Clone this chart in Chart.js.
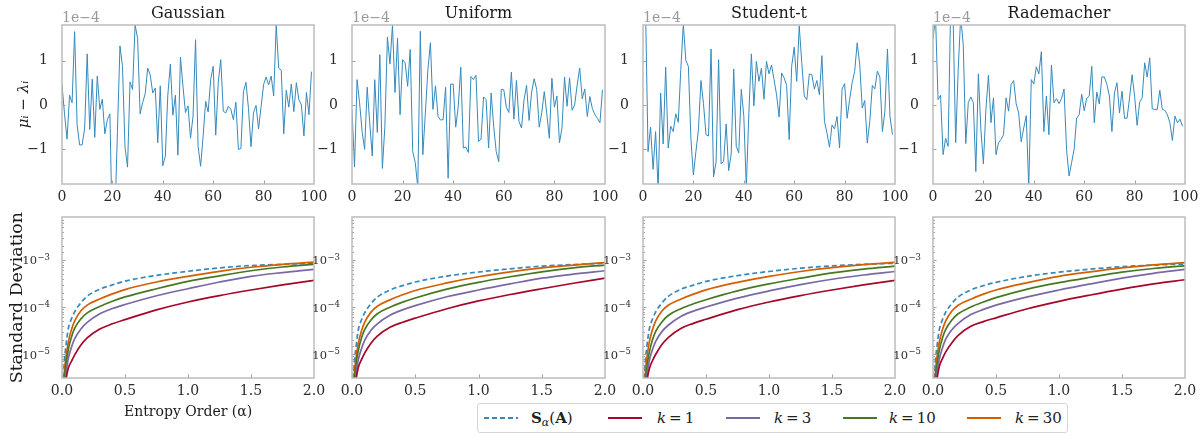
<!DOCTYPE html>
<html><head><meta charset="utf-8">
<script src="https://cdn.jsdelivr.net/npm/chart.js@4.4.0/dist/chart.umd.min.js"></script>
<style>
body{margin:0;background:#fff;width:1203px;height:434px;overflow:hidden;position:relative;font-family:"DejaVu Serif",serif;}
canvas{position:absolute;}
#legend{position:absolute;left:477px;top:403px;width:591px;height:30px;border:1px solid #d6d6d6;border-radius:3px;box-sizing:border-box;background:#fff;}
.ls{position:absolute;top:12px;}
.lt{position:absolute;top:4px;font-size:15px;color:#222;line-height:20px;white-space:nowrap;}
.axt{position:absolute;white-space:nowrap;color:#1a1a1a;line-height:1;background:transparent;}
.loglab{position:absolute;width:40px;text-align:right;font-size:11.5px;line-height:14px;height:14px;color:#2b2b2b;white-space:nowrap;z-index:20;background:transparent;}
.loglab .ex{font-size:8.5px;position:relative;top:-4.5px;margin-left:0.5px;}
</style></head><body>
<div id="legend"></div>
<script>
// ---------------- data ----------------
const indices = [0,1,2,3,4,5,6,7,8,9,10,11,12,13,14,15,16,17,18,19,20,21,22,23,24,25,26,27,28,29,30,31,32,33,34,35,36,37,38,39,40,41,42,43,44,45,46,47,48,49,50,51,52,53,54,55,56,57,58,59,60,61,62,63,64,65,66,67,68,69,70,71,72,73,74,75,76,77,78,79,80,81,82,83,84,85,86,87,88,89,90,91,92,93,94,95,96,97,98,99];

// mu_i - lambda_i, in units of 1e-4
const gaussianDiff = [0.45,-0.2,-0.77,0.22,0.05,1.65,-0.45,-0.9,-0.9,-0.52,
 1.15,-0.55,0.58,-0.73,0.65,-0.1,0.13,-0.65,-0.33,-0.2,
 -3.0,-2.5,-0.6,1.33,0.87,-0.95,-1.4,0.52,0.35,1.8,
 1.5,-0.2,0.05,0.25,0.83,0.68,0.27,0.38,-0.85,0.43,
 -1.37,-1.15,0.23,0.92,-0.23,0.22,-1.13,1.08,0.42,-0.17,
 -0.02,-0.75,-0.25,1.47,-0.93,-1.38,-0.7,0.08,-0.16,0.57,
 0.87,-0.68,0.5,1.02,-0.14,-0.18,-0.03,-0.1,-0.33,0.06,
 -1.0,-0.98,0.3,0.51,-0.08,-0.94,-0.17,-0.01,-0.54,-0.04,
 0.46,0.63,0.45,0.65,0.2,1.8,0.83,0.78,-0.65,0.33,
 -0.05,0.47,-0.15,0.5,0.12,0.0,-0.7,0.28,-0.22,0.75];
const uniformDiff = [-0.1,-1.4,0.57,0.05,-0.6,-1.0,0.4,-0.4,-1.15,0.57,
 -0.62,1.13,-1.43,-0.48,1.53,0.92,1.8,0.28,1.5,-0.22,
 1.02,0.95,0.42,1.25,-1.05,-1.3,-1.85,1.66,-1.12,-0.18,
 0.8,1.4,-0.1,0.43,-0.26,-0.34,-0.33,0.4,-1.65,0.47,
 0.47,-0.5,-0.03,0.85,-0.97,-0.95,-1.07,0.64,0.57,0.67,
 -0.82,-0.77,0.18,0.12,-0.97,0.27,-0.48,-1.05,-1.28,0.35,
 0.34,-0.05,-0.17,0.74,-0.32,0.55,-0.37,-0.52,0.12,0.44,
 -0.35,0.29,0.59,0.35,-0.5,-0.17,0.3,-0.2,-0.75,0.6,
 -0.05,0.2,-0.85,-0.52,0.63,-0.03,0.61,-0.12,0.0,0.45,
 0.83,0.14,0.36,-0.26,0.19,-0.08,-0.22,-0.3,-0.4,0.34];
const studentDiff = [2.2,2.2,-1.05,-0.5,-1.45,-0.6,-1.9,0.27,-0.88,0.85,
 -0.97,-0.48,-0.6,-0.2,-0.39,0.8,1.82,1.0,0.87,-0.75,
 -1.58,-1.05,-0.55,0.55,0.03,-0.67,-0.7,1.26,-1.62,-1.28,
 1.02,-1.33,-1.27,-0.43,-1.48,-1.1,0.81,-0.93,-1.08,0.35,
 -0.25,-1.85,-0.2,1.15,-0.02,0.98,0.53,0.83,0.13,0.98,
 0.7,0.9,0.57,0.23,-0.27,0.72,0.61,0.44,-0.78,0.87,
 1.3,0.53,1.78,0.95,0.2,0.12,0.7,0.68,0.36,0.55,
 0.23,1.11,-0.37,-0.63,-0.95,-0.45,-0.54,-0.26,-0.97,0.36,
 0.48,-0.3,0.12,0.5,0.76,1.4,0.91,-0.07,0.1,-0.86,
 -0.37,0.44,0.36,0.76,0.63,-0.6,-0.14,1.26,-0.26,-0.67];
const rademacherDiff = [1.47,2.0,0.12,0.22,-1.12,-0.75,-0.93,2.2,1.9,-0.85,
 0.8,2.0,1.36,-0.87,0.05,0.18,0.05,-1.5,0.7,-0.55,
 -1.33,-0.1,0.67,-0.4,0.16,-1.12,-0.85,-0.78,-0.67,0.16,
 -0.14,0.46,0.55,0.03,-0.18,-0.83,-0.52,-0.24,-1.85,0.57,
 0.47,0.86,0.7,1.2,-0.6,0.2,-0.67,0.9,0.05,0.14,
 0.03,0.14,0.36,-1.0,-1.6,-1.3,-1.0,-0.3,-0.22,0.24,
 -0.13,0.15,0.2,0.87,-0.4,0.29,0.02,0.63,0.63,0.46,
 0.2,-0.6,0.27,0.5,-0.18,0.31,-0.3,-0.3,0.16,0.68,
 0.2,-0.46,0.06,0.16,0.95,0.63,1.06,-0.09,-0.1,-0.1,
 0.33,-0.1,-0.12,-0.22,-0.4,-0.8,-0.25,-0.4,-0.32,-0.48];

// entropy orders (alpha)
const alphaOrders = [0.01,0.02,0.03,0.05,0.075,0.1,0.15,0.2,0.3,0.4,0.5,0.75,1.0,1.25,1.5,1.75,2.0];

// standard deviation curves per distribution
const gaussS   = [3.2e-6,7.9e-6,1.4e-5,3.5e-5,5.6e-5,7.9e-5,1.23e-4,1.7e-4,2.4e-4,2.95e-4,3.55e-4,4.7e-4,5.75e-4,6.8e-4,7.6e-4,8.1e-4,8.5e-4];
const gaussK30 = [1.4e-6,4.5e-6,8.0e-6,1.8e-5,3.3e-5,5.0e-5,8.3e-5,1.1e-4,1.48e-4,1.9e-4,2.35e-4,3.4e-4,4.5e-4,5.75e-4,7.0e-4,8.1e-4,9.0e-4];
const gaussK10 = [1.0e-6,3.2e-6,5.6e-6,1.25e-5,2.3e-5,3.5e-5,5.6e-5,7.5e-5,1.03e-4,1.33e-4,1.64e-4,2.45e-4,3.5e-4,4.6e-4,5.9e-4,7.1e-4,8.1e-4];
const gaussK3  = [5e-7,2.0e-6,3.5e-6,8.0e-6,1.4e-5,2.1e-5,3.4e-5,4.7e-5,7.2e-5,9.3e-5,1.13e-4,1.74e-4,2.45e-4,3.4e-4,4.5e-4,5.4e-4,6.3e-4];
const gaussK1  = [2e-7,1.0e-6,2.5e-6,5.0e-6,7.0e-6,9.5e-6,1.55e-5,2.2e-5,3.4e-5,4.4e-5,5.4e-5,8.7e-5,1.28e-4,1.75e-4,2.3e-4,2.95e-4,3.7e-4];

const unifS   = [3.0e-6,7.5e-6,1.3e-5,3.3e-5,5.3e-5,7.5e-5,1.18e-4,1.62e-4,2.3e-4,2.85e-4,3.4e-4,4.55e-4,5.55e-4,6.5e-4,7.4e-4,8.0e-4,8.5e-4];
const unifK30 = [1.4e-6,4.2e-6,7.5e-6,1.7e-5,3.1e-5,4.7e-5,7.8e-5,1.04e-4,1.42e-4,1.82e-4,2.25e-4,3.25e-4,4.4e-4,5.6e-4,6.8e-4,7.8e-4,8.8e-4];
const unifK10 = [9e-7,3.0e-6,5.4e-6,1.2e-5,2.2e-5,3.3e-5,5.3e-5,7.2e-5,9.9e-5,1.27e-4,1.56e-4,2.4e-4,3.35e-4,4.4e-4,5.6e-4,6.8e-4,7.8e-4];
const unifK3  = [5e-7,1.9e-6,3.4e-6,7.6e-6,1.3e-5,1.95e-5,3.2e-5,4.4e-5,6.7e-5,8.7e-5,1.07e-4,1.65e-4,2.3e-4,3.1e-4,4.1e-4,5.0e-4,5.9e-4];
const unifK1  = [2e-7,1.0e-6,2.5e-6,5.2e-6,7.6e-6,1.05e-5,1.7e-5,2.4e-5,3.7e-5,4.75e-5,5.8e-5,9.2e-5,1.35e-4,1.85e-4,2.45e-4,3.2e-4,4.1e-4];

const studS   = [3.0e-6,8.0e-6,1.4e-5,3.4e-5,5.5e-5,7.8e-5,1.22e-4,1.68e-4,2.38e-4,2.93e-4,3.5e-4,4.65e-4,5.7e-4,6.7e-4,7.5e-4,8.1e-4,8.5e-4];
const studK30 = [1.5e-6,4.5e-6,8.0e-6,1.8e-5,3.3e-5,5.0e-5,8.2e-5,1.09e-4,1.47e-4,1.88e-4,2.32e-4,3.35e-4,4.5e-4,5.7e-4,6.9e-4,8.0e-4,8.9e-4];
const studK10 = [8e-7,2.7e-6,5.0e-6,1.1e-5,2.0e-5,3.0e-5,4.8e-5,6.6e-5,9.2e-5,1.17e-4,1.43e-4,2.2e-4,3.1e-4,4.1e-4,5.3e-4,6.4e-4,7.4e-4];
const studK3  = [5e-7,1.8e-6,3.3e-6,7.2e-6,1.25e-5,1.85e-5,3.0e-5,4.1e-5,6.3e-5,8.2e-5,1.0e-4,1.55e-4,2.2e-4,3.0e-4,3.9e-4,4.8e-4,5.7e-4];
const studK1  = [2e-7,1.0e-6,2.4e-6,4.8e-6,7.2e-6,9.8e-6,1.6e-5,2.25e-5,3.5e-5,4.5e-5,5.5e-5,8.8e-5,1.28e-4,1.75e-4,2.3e-4,2.95e-4,3.7e-4];

const radeS   = [3.0e-6,7.8e-6,1.35e-5,3.3e-5,5.4e-5,7.7e-5,1.2e-4,1.64e-4,2.3e-4,2.85e-4,3.35e-4,4.5e-4,5.5e-4,6.4e-4,7.2e-4,7.8e-4,8.2e-4];
const radeK30 = [1.5e-6,4.5e-6,8.0e-6,1.8e-5,3.3e-5,5.0e-5,8.2e-5,1.09e-4,1.47e-4,1.88e-4,2.3e-4,3.3e-4,4.5e-4,5.6e-4,6.8e-4,7.9e-4,8.8e-4];
const radeK10 = [9e-7,3.0e-6,5.4e-6,1.2e-5,2.2e-5,3.3e-5,5.3e-5,7.2e-5,1.0e-4,1.28e-4,1.58e-4,2.4e-4,3.3e-4,4.3e-4,5.5e-4,6.6e-4,7.5e-4];
const radeK3  = [5e-7,2.0e-6,3.6e-6,7.8e-6,1.35e-5,2.05e-5,3.3e-5,4.5e-5,6.9e-5,8.9e-5,1.1e-4,1.65e-4,2.3e-4,3.1e-4,4.1e-4,5.2e-4,6.3e-4];
const radeK1  = [2e-7,1.1e-6,2.6e-6,5.4e-6,8.0e-6,1.1e-5,1.75e-5,2.5e-5,3.9e-5,4.9e-5,5.9e-5,9.2e-5,1.32e-4,1.8e-4,2.4e-4,3.1e-4,3.8e-4];

const panelTitles = ['Gaussian','Uniform','Student-t','Rademacher'];
const topTicksX = [0,20,40,60,80,100];
const bottomTicksX = [0.0,0.5,1.0,1.5,2.0];
const logTickValues = [1e-5, 1e-4, 1e-3];
const seriesNames = ['S','k = 1','k = 3','k = 10','k = 30'];
const seriesColors = ['#348ABD','#A60628','#7A68A6','#467821','#D55E00'];
const bottomYTitle = 'Standard Deviation';
const bottomXTitle = 'Entropy Order (α)';

// ---------------- drawing ----------------
Chart.defaults.font.family = "'DejaVu Serif', serif";
Chart.defaults.color = '#2b2b2b';
Chart.defaults.animation = false;

const SERIF = "'DejaVu Serif', serif";
const SPINE = '#bcbcbc';
function isDecade(v) { const e = Math.log10(v); return Math.abs(e - Math.round(e)) < 1e-6; }

const decor = {
  id: 'decor',
  afterDatasetsDraw(chart, args, o) {
    const {ctx, chartArea: a} = chart;
    const x = chart.scales.x, y = chart.scales.y;
    ctx.save();
    ctx.strokeStyle = '#a0a0a0'; ctx.lineWidth = 1;
    ctx.beginPath();
    x.ticks.forEach(t => {
      const p = Math.round(x.getPixelForValue(t.value)) + 0.5;
      if (p < a.left + 2 || p > a.right - 2) return;
      ctx.moveTo(p, a.bottom); ctx.lineTo(p, a.bottom - 3.5);
    });
    y.ticks.forEach(t => {
      const p = Math.round(y.getPixelForValue(t.value)) + 0.5;
      if (p < a.top + 2 || p > a.bottom - 2) return;
      const major = o.log ? isDecade(t.value) : true;
      ctx.moveTo(a.left, p); ctx.lineTo(a.left + (major ? 3.5 : 2), p);
    });
    ctx.stroke();
    ctx.strokeStyle = SPINE; ctx.lineWidth = 1.5;
    ctx.strokeRect(a.left, a.top, a.right - a.left, a.bottom - a.top);
    const cx = (a.left + a.right) / 2, cy = (a.top + a.bottom) / 2;
    if (o.title) {
      ctx.fillStyle = '#1a1a1a'; ctx.font = '16px ' + SERIF;
      ctx.textAlign = 'center'; ctx.textBaseline = 'middle';
      ctx.fillText(o.title, cx, a.top - 11);
    }
    if (o.offsetText) {
      ctx.fillStyle = '#9a9a9a'; ctx.font = '14px ' + SERIF;
      ctx.textAlign = 'left'; ctx.textBaseline = 'alphabetic';
      ctx.fillText(o.offsetText, a.left, a.top - 3.5);
    }
    if (o.yTitle) {
      ctx.save();
      ctx.translate(a.left - o.yTitle.dx, cy);
      ctx.rotate(-Math.PI / 2);
      ctx.fillStyle = '#1a1a1a'; ctx.font = o.yTitle.font;
      ctx.textAlign = 'center'; ctx.textBaseline = 'middle';
      ctx.fillText(o.yTitle.text, 0, 0);
      ctx.restore();
    }
    ctx.restore();
  }
};

const plotX = [[62,314],[352,605],[643,895],[933,1185]];
const topData = [gaussianDiff, uniformDiff, studentDiff, rademacherDiff];
const bottomData = [
  [gaussS, gaussK1, gaussK3, gaussK10, gaussK30],
  [unifS, unifK1, unifK3, unifK10, unifK30],
  [studS, studK1, studK3, studK10, studK30],
  [radeS, radeK1, radeK3, radeK10, radeK30]
];

function addCanvas(left, top, w, h) {
  const cv = document.createElement('canvas');
  cv.width = w; cv.height = h;
  cv.style.left = left + 'px'; cv.style.top = top + 'px';
  cv.style.width = w + 'px'; cv.style.height = h + 'px';
  document.body.appendChild(cv);
  return cv;
}

const AXW = 60;
// top row
plotX.forEach(([L, R], i) => {
  const plotW = R - L, plotH = 159, padT = 25, xH = 26;
  const W = AXW + plotW + AXW, H = padT + plotH + xH;
  const cv = addCanvas(L - AXW, 0, W, H);
  new Chart(cv, {
    type: 'line',
    data: { datasets: [{
      data: indices.map((k, j) => ({x: k, y: topData[i][j]})),
      borderColor: '#348ABD', borderWidth: 1, pointRadius: 0, tension: 0
    }]},
    options: {
      responsive: false, devicePixelRatio: 1, animation: false,
      layout: { padding: { left: 0, right: AXW, top: padT, bottom: 0 } },
      plugins: {
        legend: { display: false }, tooltip: { enabled: false },
        decor: { title: panelTitles[i], offsetText: '1e\u22124',
                 yTitle: i === 0 ? { text: 'μᵢ − λᵢ', font: 'italic 15px ' + SERIF, dx: 38 } : null }
      },
      scales: {
        x: { type: 'linear', min: 0, max: 100,
             afterBuildTicks: s => { s.ticks = topTicksX.map(v => ({value: v})); },
             ticks: { padding: 5, font: { size: 14 }, maxRotation: 0, autoSkip: false },
             grid: { display: false, drawTicks: false }, border: { display: false },
             afterFit: s => { s.height = xH; } },
        y: { type: 'linear', min: -1.78, max: 1.8,
             ticks: { stepSize: 1, includeBounds: false, padding: 14, font: { size: 14 },
                      callback: v => v < 0 ? '\u2212' + Math.abs(v) : String(v) },
             grid: { display: false, drawTicks: false }, border: { display: false },
             afterFit: s => { s.width = AXW; } }
      }
    },
    plugins: [decor]
  });
});

// bottom row
const bottomCharts = [];
const BPADT = 20;
plotX.forEach(([L, R], i) => {
  const plotW = R - L, plotH = 161, xH = 26;
  const W = AXW + plotW + AXW, H = BPADT + plotH + xH;
  const cv = addCanvas(L - AXW, 217 - BPADT, W, H);
  const order = [1, 2, 3, 4, 0];
  bottomCharts.push(new Chart(cv, {
    type: 'line',
    data: { datasets: order.map(s => ({
      label: seriesNames[s],
      data: alphaOrders.map((a, j) => ({x: a, y: bottomData[i][s][j]})),
      borderColor: seriesColors[s], borderWidth: 1.7, pointRadius: 0,
      cubicInterpolationMode: 'monotone',
      borderDash: s === 0 ? [5, 3] : []
    }))},
    options: {
      responsive: false, devicePixelRatio: 1, animation: false,
      layout: { padding: { left: 0, right: AXW, top: BPADT, bottom: 0 } },
      plugins: { legend: { display: false }, tooltip: { enabled: false },
                 decor: { log: true } },
      scales: {
        x: { type: 'linear', min: 0, max: 2,
             afterBuildTicks: s => { s.ticks = bottomTicksX.map(v => ({value: v})); },
             ticks: { padding: 5, font: { size: 14 }, maxRotation: 0, autoSkip: false,
                      callback: v => Number(v).toFixed(1) },
             grid: { display: false, drawTicks: false }, border: { display: false },
             afterFit: s => { s.height = xH; } },
        y: { type: 'logarithmic', min: 3.1e-6, max: 8.2e-3,
             ticks: { display: false, autoSkip: false },
             grid: { display: false, drawTicks: false }, border: { display: false },
             afterFit: s => { s.width = AXW; } }
      }
    },
    plugins: [decor]
  }));
});

// axis titles (page text)
const yt = document.createElement('div');
yt.className = 'axt'; yt.textContent = bottomYTitle;
yt.style.fontSize = '17.4px';
document.body.appendChild(yt);
const ytw = yt.offsetWidth, yth = yt.offsetHeight;
yt.style.left = (16 - ytw / 2) + 'px';
yt.style.top = (297.5 - yth / 2) + 'px';
yt.style.transform = 'rotate(-90deg)';

const xt = document.createElement('div');
xt.className = 'axt'; xt.textContent = bottomXTitle;
xt.style.fontSize = '14px';
document.body.appendChild(xt);
xt.style.left = (188 - xt.offsetWidth / 2) + 'px';
xt.style.top = (411 - xt.offsetHeight / 2) + 'px';

// decade tick labels (10^n), placed with the log scale of the bottom charts
const refScale = bottomCharts[1].scales.y;
plotX.forEach(([L], i) => {
  let sc = bottomCharts[i].scales.y;
  logTickValues.forEach(v => {
    let p = sc.getPixelForValue(v);
    if (!isFinite(p)) p = refScale.getPixelForValue(v);
    const e = Math.round(Math.log10(v));
    const lab = document.createElement('div');
    lab.className = 'loglab';
    lab.style.left = (L - 12 - 40) + 'px';
    lab.style.top = (217 - BPADT + p - 6.5) + 'px';
    lab.innerHTML = '10<span class="ex">' + (e < 0 ? '\u2212' : '') + Math.abs(e) + '</span>';
    document.body.appendChild(lab);
  });
});

// legend
const legend = document.getElementById('legend');
const lineLeft = [6, 130, 248, 365, 489];
const textLeft = [53, 179, 296, 411, 537];
seriesNames.forEach((name, s) => {
  const svg = document.createElementNS('http://www.w3.org/2000/svg', 'svg');
  svg.setAttribute('width', '34'); svg.setAttribute('height', '4');
  svg.setAttribute('class', 'ls');
  svg.style.left = lineLeft[s] + 'px';
  const ln = document.createElementNS('http://www.w3.org/2000/svg', 'line');
  ln.setAttribute('x1', '0'); ln.setAttribute('y1', '2'); ln.setAttribute('x2', '34'); ln.setAttribute('y2', '2');
  ln.setAttribute('stroke', seriesColors[s]); ln.setAttribute('stroke-width', '2');
  if (s === 0) ln.setAttribute('stroke-dasharray', '5 3');
  svg.appendChild(ln);
  legend.appendChild(svg);
  const t = document.createElement('div');
  t.className = 'lt'; t.style.left = textLeft[s] + 'px';
  if (s === 0) {
    t.innerHTML = '<b>S</b><sub style="font-size:11px;vertical-align:-3px;font-style:italic">α</sub>(<b>A</b>)';
  } else {
    const parts = name.split(' = ');
    t.innerHTML = '<i>' + parts[0] + '</i>\u2009=\u2009' + parts[1];
  }
  legend.appendChild(t);
});
</script>
</body></html>
